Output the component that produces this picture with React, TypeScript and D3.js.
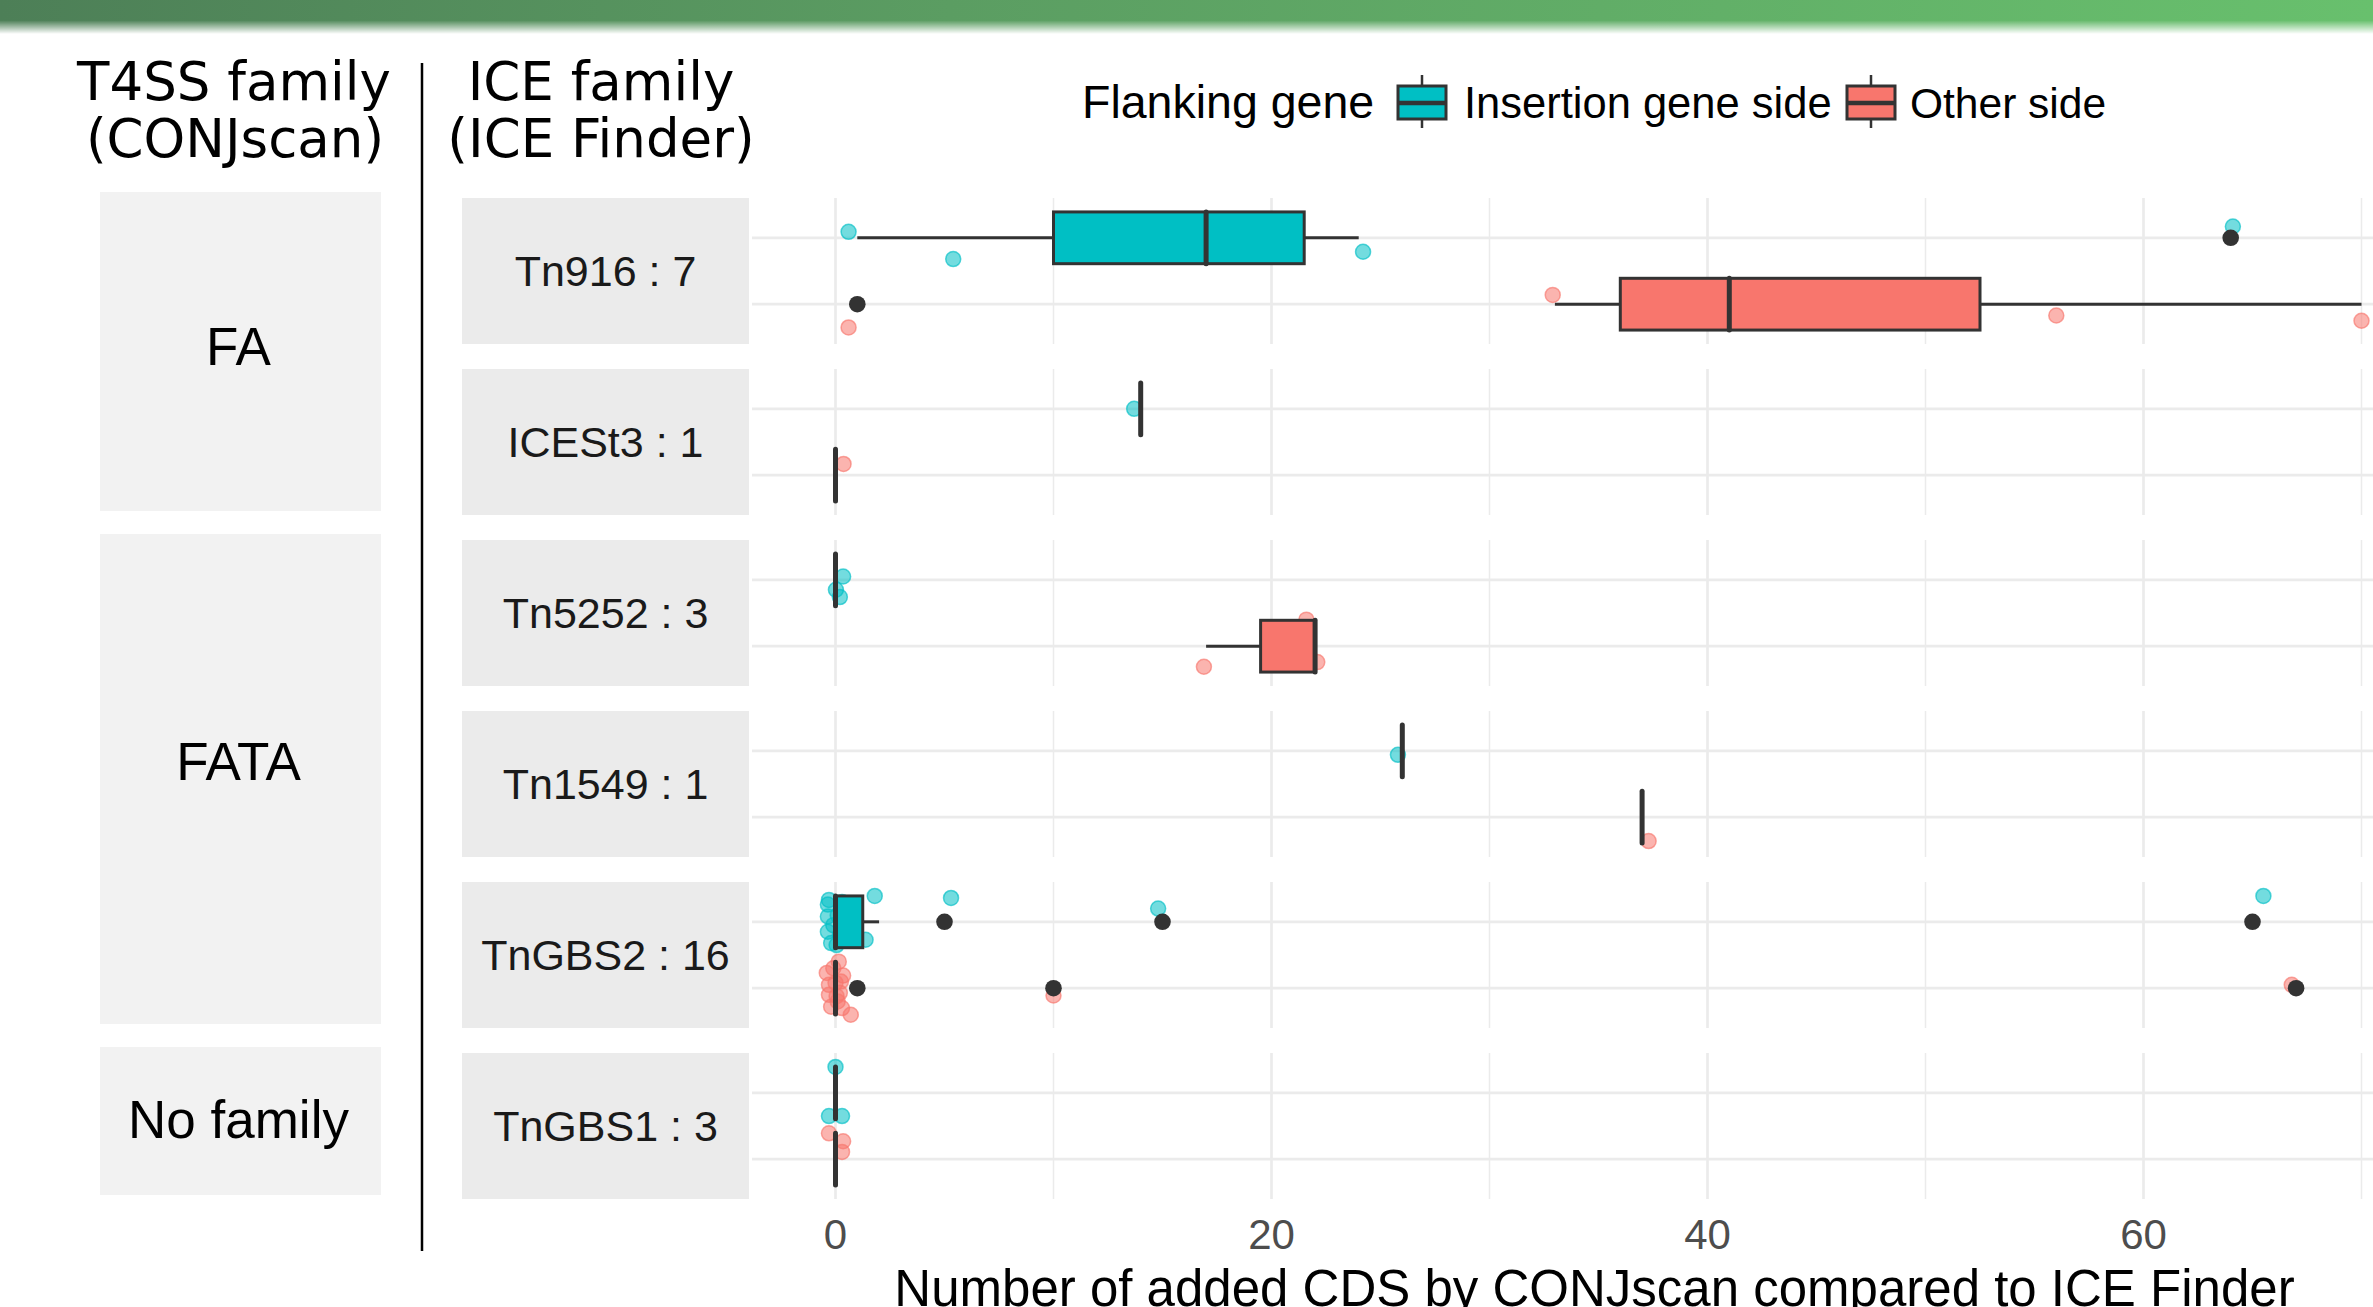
import React from 'react';
import * as d3 from 'd3';

// facets
const iceLabels = ['Tn916 : 7', 'ICESt3 : 1', 'Tn5252 : 3', 'Tn1549 : 1', 'TnGBS2 : 16', 'TnGBS1 : 3'];
const t4ssFamilies = ['FA', 'FATA', 'No family'];
const t4ssOfIce = ['FA', 'FA', 'FATA', 'FATA', 'FATA', 'No family'];
const sides = ['Insertion gene side', 'Other side'];
const sideColors = ['#00BFC4', '#F8766D'];
const xTicks = [0, 20, 40, 60];
const xMinor = [10, 30, 50, 70];

// number of added CDS, one array per ICE family
const insertionValues = [
  [1, 5, 15, 17, 19, 24, 64],
  [14],
  [0, 0, 0],
  [26],
  [0, 0, 0, 0, 0, 0, 0, 0, 0, 0, 1, 1, 2, 5, 15, 65],
  [0, 0, 0],
];
const otherValues = [
  [1, 33, 39, 41, 49, 56, 70],
  [0],
  [17, 22, 22],
  [37],
  [0, 0, 0, 0, 0, 0, 0, 0, 0, 0, 0, 0, 0, 1, 10, 67],
  [0, 0, 0],
];

// jittered points as they appear: [value shown, vertical jitter in band steps]
const insertionPoints = [
  [[0.6, -0.09], [5.4, 0.32], [15, 0.1], [17, -0.2], [19, 0.15], [24.2, 0.21], [64.1, -0.17]],
  [[13.7, 0]],
  [[0.35, -0.05], [0.02, 0.15], [0.2, 0.26]],
  [[25.8, 0.06]],
  [[-0.3, -0.33], [-0.35, -0.26], [-0.35, -0.08], [-0.35, 0.15], [-0.2, 0.32], [0.1, -0.1], [0.2, 0.2], [0.3, -0.3],
   [-0.1, 0.05], [0.05, 0.35], [1.38, 0.27], [0.8, -0.2], [1.8, -0.39], [5.3, -0.36], [14.8, -0.2], [65.5, -0.39]],
  [[0, -0.39], [-0.3, 0.35], [0.3, 0.35]],
];
const otherPoints = [
  [[0.6, 0.35], [32.9, -0.14], [39, 0.1], [41, -0.2], [49, 0.2], [56, 0.17], [70, 0.25]],
  [[0.37, -0.17]],
  [[16.9, 0.31], [21.6, -0.4], [22.1, 0.24]],
  [[37.3, 0.36]],
  [[0.15, -0.4], [-0.4, -0.23], [0.35, -0.19], [-0.3, 0.1], [0.2, 0.07], [-0.2, 0.28], [0, -0.08], [0.1, 0.2],
   [-0.1, -0.3], [0.3, 0.3], [-0.3, -0.05], [0.05, 0.12], [0.25, -0.1], [0.7, 0.4], [10, 0.11], [66.8, -0.05]],
  [[-0.3, -0.39], [0.35, -0.27], [0.3, -0.11]],
];

const W = 2373;
const H = 1307;
const panelLeft = 752;
const panelRight = 2441;
const panelTop0 = 198;
const panelH = 146;
const panelGap = 25;
const stripX0 = 462;
const stripX1 = 749;
const outerX0 = 100;
const outerX1 = 381;
const dark = '#333333';
const sans = '"Liberation Sans", Arial, sans-serif';
const deja = '"DejaVu Sans", sans-serif';

function boxStats(vals: number[]) {
  const s = [...vals].sort(d3.ascending);
  const q1 = d3.quantileSorted(s, 0.25) as number;
  const med = d3.quantileSorted(s, 0.5) as number;
  const q3 = d3.quantileSorted(s, 0.75) as number;
  const iqr = q3 - q1;
  const lo = q1 - 1.5 * iqr;
  const hi = q3 + 1.5 * iqr;
  const inside = s.filter(v => v >= lo && v <= hi);
  return {
    q1, med, q3,
    wLo: d3.min(inside) as number,
    wHi: d3.max(inside) as number,
    outliers: s.filter(v => v < lo || v > hi),
  };
}

const App = () => {
  const x = d3.scaleLinear().domain([0, 60]).range([835.5, 2143.5]);
  const y = d3.scalePoint<string>().domain(sides).range([0, panelH]).padding(0.6);
  const step = y.step();
  const hh = 0.39 * step;
  const top = (i: number) => panelTop0 + i * (panelH + panelGap);

  const valueSets = [insertionValues, otherValues];
  const pointSets = [insertionPoints, otherPoints];

  // label nudges so outer text sits like the original
  const outerShift: Record<string, number> = { FA: -6, FATA: -18, 'No family': -2 };

  return (
    <div style={{ position: 'absolute', left: 0, top: 0 }}>
      <svg width={W} height={H} style={{ display: 'block', background: '#fff' }}>
        <defs>
          <linearGradient id="bannerH" x1="0" x2="1" y1="0" y2="0">
            <stop offset="0" stopColor="#4d7f57" />
            <stop offset="0.4" stopColor="#5b9d62" />
            <stop offset="1" stopColor="#68c06d" />
          </linearGradient>
          <linearGradient id="fadeV" x1="0" x2="0" y1="0" y2="1">
            <stop offset="0" stopColor="#fff" stopOpacity="1" />
            <stop offset="0.6" stopColor="#fff" stopOpacity="1" />
            <stop offset="1" stopColor="#fff" stopOpacity="0" />
          </linearGradient>
          <mask id="bannerMask">
            <rect x={0} y={0} width={W} height={34} fill="url(#fadeV)" />
          </mask>
        </defs>
        <rect x={0} y={0} width={W} height={34} fill="url(#bannerH)" mask="url(#bannerMask)" />

        {/* column titles */}
        <g fontFamily={deja} fontSize={53} fill="#000" textAnchor="middle">
          <text x={234} y={100}>T4SS family</text>
          <text x={235} y={157}>(CONJscan)</text>
          <text x={601} y={100}>ICE family</text>
          <text x={601} y={157}>(ICE Finder)</text>
        </g>
        <line x1={422} x2={422} y1={63} y2={1251} stroke="#000" strokeWidth={2.5} />

        {/* legend */}
        <g fontFamily={sans} fill="#000">
          <text x={1082} y={118} fontSize={46.5}>Flanking gene</text>
          {sides.map((s, k) => {
            const kx = k === 0 ? 1398 : 1847;
            const tx = k === 0 ? 1464 : 1910;
            return (
              <g key={s}>
                <line x1={kx + 24} x2={kx + 24} y1={75} y2={128} stroke={dark} strokeWidth={2.5} />
                <rect x={kx} y={86} width={48} height={33} fill={sideColors[k]} stroke={dark} strokeWidth={3} />
                <line x1={kx} x2={kx + 48} y1={103} y2={103} stroke={dark} strokeWidth={4.5} />
                <text x={tx} y={118} fontSize={k === 0 ? 43.5 : 42.5}>{s}</text>
              </g>
            );
          })}
        </g>

        {/* outer T4SS strips */}
        {t4ssFamilies.map(f => {
          const idx = t4ssOfIce.map((g, i) => (g === f ? i : -1)).filter(i => i >= 0);
          const y0 = top(idx[0]) - 6;
          const y1 = top(idx[idx.length - 1]) + panelH - 4;
          return (
            <g key={f}>
              <rect x={outerX0} y={y0} width={outerX1 - outerX0} height={y1 - y0} fill="#f2f2f2" />
              <text x={(outerX0 + outerX1) / 2 - 2} y={(y0 + y1) / 2 + outerShift[f]} dy="0.36em"
                textAnchor="middle" fontFamily={sans} fontSize={53} fill="#000">{f}</text>
            </g>
          );
        })}

        {iceLabels.map((lab, i) => {
          const t = top(i);
          return (
            <g key={lab}>
              <rect x={stripX0} y={t} width={stripX1 - stripX0} height={panelH} fill="#ebebeb" />
              <text x={(stripX0 + stripX1) / 2} y={t + panelH / 2} dy="0.36em" textAnchor="middle"
                fontFamily={sans} fontSize={43} fill="#1a1a1a">{lab}</text>

              {/* grid */}
              {xMinor.map(v => (
                <line key={'mn' + v} x1={x(v)} x2={x(v)} y1={t} y2={t + panelH} stroke="#ebebeb" strokeWidth={1.5} />
              ))}
              {xTicks.map(v => (
                <line key={'mj' + v} x1={x(v)} x2={x(v)} y1={t} y2={t + panelH} stroke="#ebebeb" strokeWidth={2.7} />
              ))}
              {sides.map(s => (
                <line key={'h' + s} x1={panelLeft} x2={panelRight} y1={t + (y(s) as number)} y2={t + (y(s) as number)}
                  stroke="#ebebeb" strokeWidth={2.7} />
              ))}

              {/* jittered points */}
              {sides.map((s, k) => pointSets[k][i].map((p, j) => (
                <circle key={s + j} cx={x(p[0])} cy={t + (y(s) as number) + p[1] * step} r={7.5}
                  fill={sideColors[k]} fillOpacity={0.55} stroke={sideColors[k]} strokeOpacity={0.65} strokeWidth={1.5} />
              )))}

              {/* boxplots */}
              {sides.map((s, k) => {
                const b = boxStats(valueSets[k][i]);
                const cy = t + (y(s) as number);
                return (
                  <g key={'b' + s}>
                    <line x1={x(b.wLo)} x2={x(b.q1)} y1={cy} y2={cy} stroke={dark} strokeWidth={3} />
                    <line x1={x(b.q3)} x2={x(b.wHi)} y1={cy} y2={cy} stroke={dark} strokeWidth={3} />
                    {b.q3 > b.q1 && (
                      <rect x={x(b.q1)} y={cy - hh} width={x(b.q3) - x(b.q1)} height={2 * hh}
                        fill={sideColors[k]} stroke={dark} strokeWidth={3} />
                    )}
                    <line x1={x(b.med)} x2={x(b.med)} y1={cy - hh} y2={cy + hh} stroke={dark} strokeWidth={5}
                      strokeLinecap="round" />
                    {b.outliers.map((v, j) => (
                      <circle key={j} cx={x(v)} cy={cy} r={8.3} fill={dark} />
                    ))}
                  </g>
                );
              })}
            </g>
          );
        })}

        {/* x axis */}
        <g fontFamily={sans} textAnchor="middle">
          {xTicks.map(v => (
            <text key={v} x={x(v)} y={1249} fontSize={42} fill="#4d4d4d">{v}</text>
          ))}
          <text x={(panelLeft + panelRight) / 2 - 2} y={1306} fontSize={51} fill="#000">
            Number of added CDS by CONJscan compared to ICE Finder
          </text>
        </g>
      </svg>
    </div>
  );
};

export default App;
